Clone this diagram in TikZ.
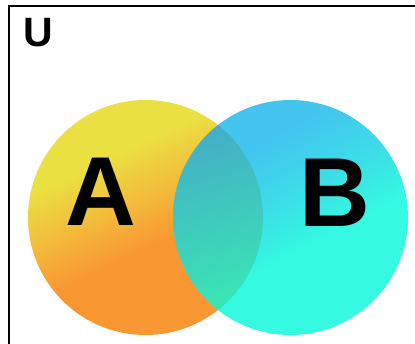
\documentclass[tikz,border=0pt]{standalone}
\usepackage{fontspec}
\setmainfont{Liberation Sans}
\definecolor{ayellow}{HTML}{EBE042}
\definecolor{amid}{HTML}{F3BB3B}
\definecolor{aorange}{HTML}{F99733}
\definecolor{bblue}{HTML}{43C5EF}
\definecolor{bmid}{HTML}{3CDDE8}
\definecolor{bcyan}{HTML}{35F9E0}
\definecolor{ltop}{HTML}{44AEC6}
\definecolor{lbot}{HTML}{39E6B4}
\pgfdeclareverticalshading{ashading}{100bp}{color(0bp)=(aorange); color(44bp)=(aorange); color(54bp)=(amid); color(65bp)=(ayellow); color(100bp)=(ayellow)}
\pgfdeclareverticalshading{bshading}{100bp}{color(0bp)=(bcyan); color(43bp)=(bcyan); color(54bp)=(bmid); color(67bp)=(bblue); color(100bp)=(bblue)}
\tikzset{
  setlabel/.style={font=\fontsize{98}{98}\selectfont\bfseries, text=black, inner sep=0pt},
  frame/.style={line width=2pt, black}
}
\begin{document}
\begin{tikzpicture}[x=1pt,y=1pt]
\useasboundingbox (0,0) rectangle (415,344);
\clip (0,0) rectangle (415,344);
\fill[white] (0,0) rectangle (415,344);
\draw[frame] (9,-5) -- (9,337.7) -- (420,337.7);
\node[font=\fontsize{41}{41}\selectfont\bfseries, inner sep=0pt] (u) at (38.5,311.5) {U};
\shade[shading=ashading, shading angle=25] (145.5,126.5) circle (117.5);
\shade[shading=bshading, shading angle=28] (290.5,126.5) circle (117.5);
\begin{scope}
  \clip (290.5,126.5) circle (117.5);
  \clip (145.5,126.5) circle (117.5);
  \shade[top color=ltop, bottom color=lbot, shading angle=15] (170,30) rectangle (266,225);
\end{scope}
\node[setlabel] (a) at (101,152) {A};
\node[setlabel] (b) at (334.5,151.5) {B};
\end{tikzpicture}
\end{document}
